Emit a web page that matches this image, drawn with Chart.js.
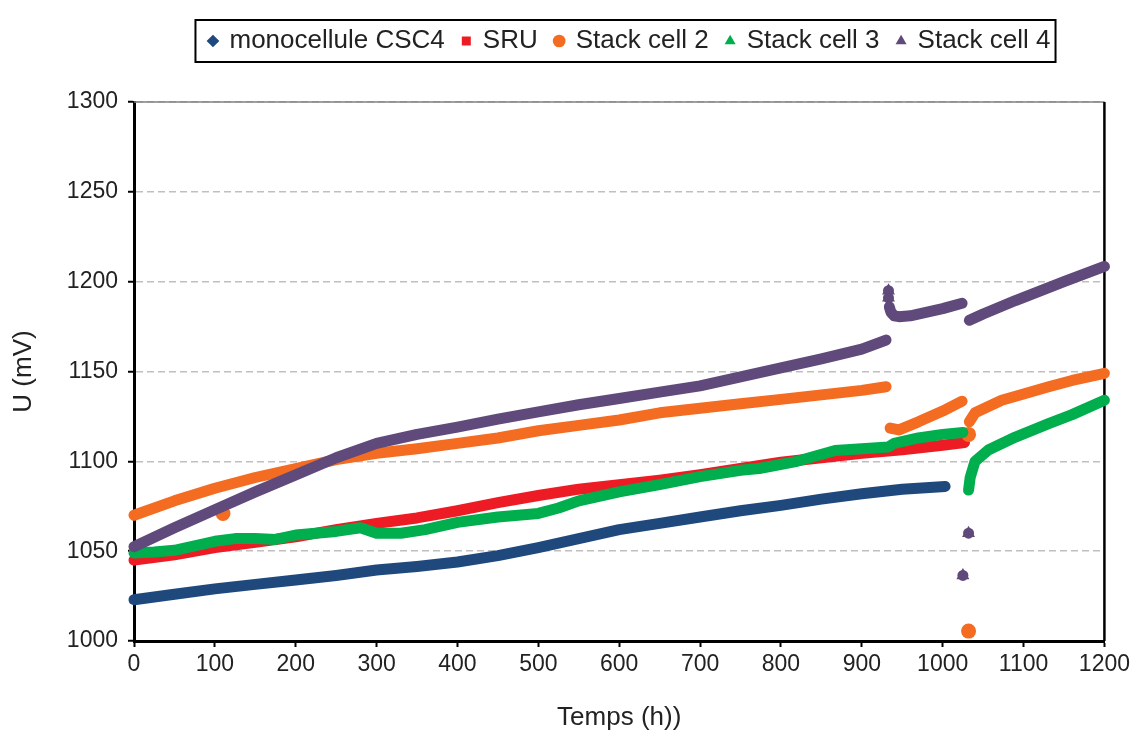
<!DOCTYPE html>
<html>
<head>
<meta charset="utf-8">
<script src="https://cdn.jsdelivr.net/npm/chart.js@4/dist/chart.umd.min.js"></script>
<style>
  html, body { margin: 0; padding: 0; background: #fff; }
</style>
</head>
<body>
<canvas id="voltChart" width="1134" height="735"></canvas>
<script>
// values (null = gap in the recording)
const csc4Hours = [0, 50, 100, 150, 200, 250, 300, 350, 400, 450, 500, 550, 600, 650, 700, 750, 800, 850, 900, 950, 1003];
const csc4U = [1023, 1026, 1029, 1031.5, 1034, 1036.5, 1039.5, 1041.5, 1044, 1047.5, 1052, 1057, 1062, 1065.5, 1069, 1072.5, 1075.5, 1079, 1082, 1084.5, 1086];

const sruHours = [0, 50, 100, 150, 200, 250, 300, 350, 400, 450, 500, 550, 600, 650, 700, 750, 800, 850, 900, 950, 1000, 1027];
const sruU = [1045, 1048, 1052, 1055, 1058, 1062, 1065.5, 1068.5, 1072.5, 1077, 1081, 1084.5, 1087, 1089.5, 1092.5, 1096, 1099.5, 1102, 1104.5, 1106.5, 1109, 1110.5];

const stack2Hours = [0, 50, 100, 150, 200, 250, 300, 350, 400, 450, 500, 550, 600, 650, 700, 750, 800, 850, 900, 930,
  932, 935, 946, 970, 1000, 1024,
  1028, 1032, 1032, 1032, 1032,
  1033, 1040, 1073, 1100, 1131, 1160, 1200,
  1200, 110];
const stack2U = [1070, 1078, 1085, 1091, 1096, 1101, 1104.5, 1107, 1110, 1113, 1117, 1120, 1123, 1127, 1129.5, 1132, 1134.5, 1137, 1139.5, 1141.5,
  null, 1118.5, 1117.5, 1122, 1128, 1133.5,
  null, 1115, null, 1005.5, null,
  1122, 1127, 1134, 1137.5, 1141.5, 1145, 1149,
  null, 1071];

const stack3Hours = [0, 25, 50, 75, 100, 125, 150, 175, 200, 225, 250, 280, 300, 330, 360, 400, 450, 500, 525, 550, 600, 650, 700, 750, 773, 820, 867, 900, 933, 940, 970, 1000, 1025,
  1029, 1032, 1034, 1040, 1057, 1090, 1131, 1160, 1200];
const stack3U = [1049, 1049.5, 1050.5, 1053, 1055.5, 1057, 1057, 1056.5, 1059, 1060, 1061, 1063, 1060, 1060, 1062, 1066, 1069, 1071, 1074, 1078, 1083, 1087, 1091.5, 1095, 1096, 1100, 1106, 1107, 1108, 1110, 1113, 1115, 1116,
  null, 1084, 1091, 1100, 1106.5, 1113.5, 1121, 1126, 1134];

const stack4Hours = [0, 50, 100, 150, 200, 250, 300, 350, 400, 450, 500, 550, 600, 650, 700, 750, 800, 850, 900, 930,
  931, 933, 933, 933, 933,
  934, 936, 940, 946, 960, 1000, 1024,
  1024.5, 1025, 1028, 1032, 1032.5,
  1033, 1050, 1090, 1150, 1200];
const stack4U = [1052.5, 1063, 1073, 1083, 1092.5, 1102, 1110, 1115, 1119, 1123.5, 1127.5, 1131.5, 1135, 1138.5, 1142, 1147, 1152, 1157, 1162.5, 1167.5,
  null, 1195, null, 1191, null,
  1186, 1183, 1181, 1180.5, 1181, 1185, 1188,
  null, 1036.5, null, 1060, null,
  1178.5, 1182, 1189.5, 1200, 1208.5];

const seriesNames = ["monocellule CSC4", "SRU", "Stack cell 2", "Stack cell 3", "Stack cell 4"];
const seriesColors = ["#1F497D", "#ED1C24", "#F36C21", "#00AE4D", "#604A7B"];
const seriesMarkers = ["rectRot", "rect", "circle", "triangle", "triangle"];

const xTicks = [0, 1200, 100];   // min, max, step
const yTicks = [1000, 1300, 50];

function toPoints(hours, volts) {
    return hours.map((h, i) => ({x: h, y: volts[i]}));
}

// a point with no neighbour on either side is drawn as a marker
function isolated(ctx) {
    const d = ctx.dataset.data;
    const i = ctx.dataIndex;
    const p = d[i - 1], n = d[i + 1];
    const cur = d[i];
    if (!cur || cur.y === null)
        return false;
    return (!p || p.y === null) && (!n || n.y === null);
}

const allSeries = [
    toPoints(csc4Hours, csc4U),
    toPoints(sruHours, sruU),
    toPoints(stack2Hours, stack2U),
    toPoints(stack3Hours, stack3U),
    toPoints(stack4Hours, stack4U)
];

let datasets = [];
for (let i = 0; i < allSeries.length; i++) {
    datasets.push({
        label: seriesNames[i],
        data: allSeries[i],
        showLine: true,
        spanGaps: false,
        tension: 0,
        borderColor: seriesColors[i],
        backgroundColor: seriesColors[i],
        borderWidth: 11,
        borderCapStyle: 'round',
        borderJoinStyle: 'round',
        pointStyle: seriesMarkers[i],
        pointBackgroundColor: seriesColors[i],
        pointBorderWidth: 0,
        pointRadius: ctx => isolated(ctx) ? 7.5 : 0,
        clip: false,
        order: allSeries.length - 1 - i
    });
}

const textColor = "#222";
const fontFamily = "'Liberation Sans', Arial, sans-serif";

const framePlugin = {
    id: 'frame',
    afterLayout(chart) {
        const lg = chart.legend;
        const dx = 630 - (lg.left + lg.right) / 2;
        lg.left += dx;
        lg.right += dx;
    },
    beforeDatasetsDraw(chart) {
        const {ctx, chartArea} = chart;
        ctx.save();
        ctx.strokeStyle = "#808080";
        ctx.lineWidth = 1.5;
        ctx.beginPath();
        ctx.moveTo(chartArea.left, chartArea.top);
        ctx.lineTo(chartArea.right, chartArea.top);
        ctx.stroke();
        ctx.strokeStyle = "#000";
        ctx.lineWidth = 2.5;
        ctx.beginPath();
        ctx.moveTo(chartArea.right, chartArea.top);
        ctx.lineTo(chartArea.right, chartArea.bottom);
        ctx.stroke();
        ctx.restore();
    },
    afterDraw(chart) {
        const boxes = chart.legend.legendHitBoxes;
        if (!boxes || !boxes.length)
            return;
        const first = boxes[0], last = boxes[boxes.length - 1];
        const ctx = chart.ctx;
        ctx.save();
        ctx.strokeStyle = "#000";
        ctx.lineWidth = 2;
        ctx.strokeRect(first.left - 14, first.top - 8,
                last.left + last.width + 5 - (first.left - 14), first.height + 16);
        ctx.restore();
    }
};

new Chart(document.getElementById("voltChart"), {
    type: 'scatter',
    data: {datasets: datasets},
    plugins: [framePlugin],
    options: {
        responsive: false,
        animation: false,
        events: [],
        layout: {
            padding: {top: 10, right: 28, bottom: 0, left: 0}
        },
        plugins: {
            legend: {
                position: 'top',
                weight: 3000,
                labels: {
                    usePointStyle: true,
                    boxHeight: 9,
                    boxWidth: 7,
                    padding: 18,
                    color: textColor,
                    font: {family: fontFamily, size: 26},
                    sort: (a, b) => a.datasetIndex - b.datasetIndex
                }
            },
            // empty title used as spacer between legend and plot
            title: {
                display: true,
                text: '',
                font: {size: 10, lineHeight: 1.2},
                padding: {top: 26, bottom: 0}
            },
            tooltip: {enabled: false}
        },
        scales: {
            x: {
                type: 'linear',
                min: xTicks[0],
                max: xTicks[1],
                afterFit: scale => { scale.height = 94; },
                ticks: {
                    stepSize: xTicks[2],
                    padding: 4,
                    color: textColor,
                    font: {family: fontFamily, size: 23},
                    callback: v => String(v)
                },
                grid: {
                    drawOnChartArea: false,
                    drawTicks: true,
                    tickLength: 6,
                    tickColor: "#000",
                    tickWidth: 2
                },
                border: {color: "#000", width: 3},
                title: {
                    display: true,
                    text: "Temps (h))",
                    color: textColor,
                    font: {family: fontFamily, size: 26},
                    padding: {top: 0, bottom: 2}
                }
            },
            y: {
                type: 'linear',
                min: yTicks[0],
                max: yTicks[1],
                afterFit: scale => { scale.width = 134; },
                ticks: {
                    stepSize: yTicks[2],
                    padding: 10,
                    color: textColor,
                    font: {family: fontFamily, size: 23},
                    callback: v => String(v)
                },
                grid: {
                    color: "#BFBFBF",
                    lineWidth: 1.5,
                    tickBorderDash: [],
                    tickLength: 6,
                    tickColor: "#000",
                    tickWidth: 2
                },
                border: {color: "#000", width: 3, dash: [7, 4]},
                title: {
                    display: true,
                    text: "U (mV)",
                    color: textColor,
                    font: {family: fontFamily, size: 26},
                    padding: {top: 8, bottom: 0}
                }
            }
        }
    }
});
</script>
</body>
</html>
